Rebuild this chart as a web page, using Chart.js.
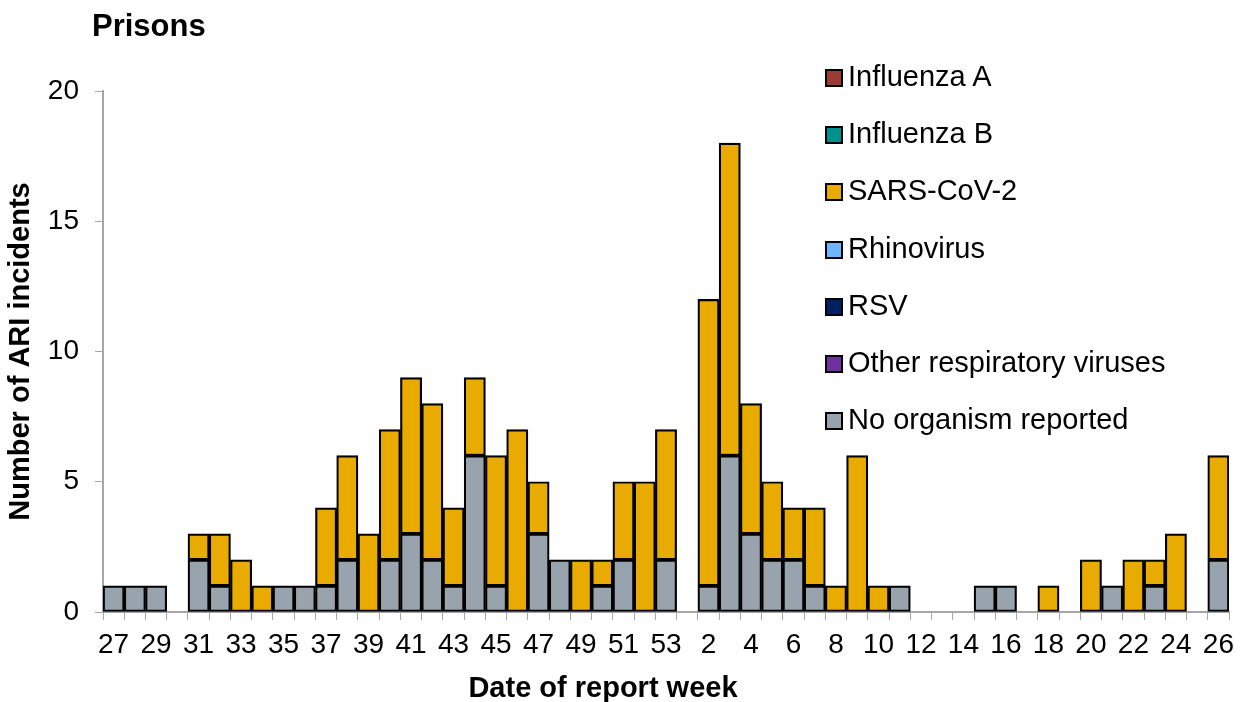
<!DOCTYPE html>
<html>
<head>
<meta charset="utf-8">
<script src="https://cdn.jsdelivr.net/npm/chart.js@4.4.1/dist/chart.umd.min.js"></script>
<style>
    html, body { margin: 0; padding: 0; background: #fff; }
    #wrap { position: relative; width: 1242px; height: 702px; font-family: Arial, "Liberation Sans", sans-serif; }
    #chart { position: absolute; left: 0; top: 0; }
    #title { position: absolute; left: 92px; top: 8px; font-size: 31px; font-weight: bold; color: #000; }
    #xtitle { position: absolute; left: 603px; top: 671px; transform: translateX(-50%); font-size: 29px; font-weight: bold; color: #000; white-space: nowrap; }
    #legend { position: absolute; left: 825px; top: 60px; }
    .item { height: 57.2px; display: flex; align-items: flex-start; font-size: 29px; color: #000; white-space: nowrap; }
    .box { width: 14px; height: 14px; border: 2px solid #000; margin: 9px 5px 0 0; }
</style>
</head>
<body>
<div id="wrap">
    <canvas id="chart" width="1242" height="702"></canvas>
    <div id="title">Prisons</div>
    <div id="xtitle">Date of report week</div>
    <div id="legend"></div>
</div>
<script>
// report weeks 27..53 then 1..26
const weeks = ['27', '28', '29', '30', '31', '32', '33', '34', '35', '36', '37', '38', '39', '40',
    '41', '42', '43', '44', '45', '46', '47', '48', '49', '50', '51', '52', '53',
    '1', '2', '3', '4', '5', '6', '7', '8', '9', '10', '11', '12', '13', '14', '15', '16',
    '17', '18', '19', '20', '21', '22', '23', '24', '25', '26'];

const influenzaA = [0, 0, 0, 0, 0, 0, 0, 0, 0, 0, 0, 0, 0, 0, 0, 0, 0, 0, 0, 0, 0, 0, 0, 0, 0, 0, 0,
    0, 0, 0, 0, 0, 0, 0, 0, 0, 0, 0, 0, 0, 0, 0, 0, 0, 0, 0, 0, 0, 0, 0, 0, 0, 0];
const influenzaB = [0, 0, 0, 0, 0, 0, 0, 0, 0, 0, 0, 0, 0, 0, 0, 0, 0, 0, 0, 0, 0, 0, 0, 0, 0, 0, 0,
    0, 0, 0, 0, 0, 0, 0, 0, 0, 0, 0, 0, 0, 0, 0, 0, 0, 0, 0, 0, 0, 0, 0, 0, 0, 0];
const sarsCov2 = [0, 0, 0, 0, 1, 2, 2, 1, 0, 0, 3, 4, 3, 5, 6, 6, 3, 3, 5, 7, 2, 0, 2, 1, 3, 5, 5,
    0, 11, 12, 5, 3, 2, 3, 1, 6, 1, 0, 0, 0, 0, 0, 0, 0, 1, 0, 2, 0, 2, 1, 3, 0, 4];
const rhinovirus = [0, 0, 0, 0, 0, 0, 0, 0, 0, 0, 0, 0, 0, 0, 0, 0, 0, 0, 0, 0, 0, 0, 0, 0, 0, 0, 0,
    0, 0, 0, 0, 0, 0, 0, 0, 0, 0, 0, 0, 0, 0, 0, 0, 0, 0, 0, 0, 0, 0, 0, 0, 0, 0];
const rsv = [0, 0, 0, 0, 0, 0, 0, 0, 0, 0, 0, 0, 0, 0, 0, 0, 0, 0, 0, 0, 0, 0, 0, 0, 0, 0, 0,
    0, 0, 0, 0, 0, 0, 0, 0, 0, 0, 0, 0, 0, 0, 0, 0, 0, 0, 0, 0, 0, 0, 0, 0, 0, 0];
const otherViruses = [0, 0, 0, 0, 0, 0, 0, 0, 0, 0, 0, 0, 0, 0, 0, 0, 0, 0, 0, 0, 0, 0, 0, 0, 0, 0, 0,
    0, 0, 0, 0, 0, 0, 0, 0, 0, 0, 0, 0, 0, 0, 0, 0, 0, 0, 0, 0, 0, 0, 0, 0, 0, 0];
const noOrganism = [1, 1, 1, 0, 2, 1, 0, 0, 1, 1, 1, 2, 0, 2, 3, 2, 1, 6, 1, 0, 3, 2, 0, 1, 2, 0, 2,
    0, 1, 6, 3, 2, 2, 1, 0, 0, 0, 1, 0, 0, 0, 1, 1, 0, 0, 0, 0, 1, 0, 1, 0, 0, 2];

const yTicks = [0, 5, 10, 15, 20];

// zero segments would leave a black line, so drop them
const nz = a => a.map(v => v === 0 ? null : v);

function bar(label, values, color) {
    return {
        label: label,
        data: nz(values),
        backgroundColor: color,
        borderColor: '#000',
        borderWidth: 2.2,
        borderSkipped: false,
        barPercentage: 1,
        categoryPercentage: 1
    };
}

// bottom of the stack first
const datasets = [
    bar('No organism reported', noOrganism, '#98a3ad'),
    bar('Other respiratory viruses', otherViruses, '#7030a0'),
    bar('RSV', rsv, '#002060'),
    bar('Rhinovirus', rhinovirus, '#6cb6ff'),
    bar('SARS-CoV-2', sarsCov2, '#e9ab00'),
    bar('Influenza B', influenzaB, '#009090'),
    bar('Influenza A', influenzaA, '#9b3b36')
];

const axisColor = '#a6a6a6';
const config = {
    type: 'bar',
    data: { labels: weeks, datasets: datasets },
    options: {
        responsive: false,
        animation: false,
        layout: { padding: { left: 0, top: 91, right: 4, bottom: 0 } },
        plugins: { legend: { display: false }, tooltip: { enabled: false } },
        scales: {
            x: {
                stacked: true,
                grid: { drawOnChartArea: false, color: axisColor, tickLength: 8, offset: true },
                border: { color: axisColor, width: 2 },
                ticks: {
                    autoSkip: false, maxRotation: 0, padding: 8, color: '#000',
                    font: { family: 'Arial, "Liberation Sans"', size: 28 },
                    callback: (v, i) => i % 2 === 0 ? weeks[i] : ''
                },
                afterFit: s => { s.height = 90; }
            },
            y: {
                stacked: true, min: 0, max: 20,
                afterBuildTicks: s => { s.ticks = yTicks.map(v => ({ value: v })); },
                grid: { drawOnChartArea: false, color: axisColor, tickLength: 8 },
                border: { color: axisColor, width: 2 },
                ticks: { padding: 16, color: '#000', font: { family: 'Arial, "Liberation Sans"', size: 28 } },
                title: {
                    display: true, text: 'Number of ARI incidents', color: '#000',
                    padding: { top: 4, bottom: 0 },
                    font: { family: 'Arial, "Liberation Sans"', size: 29, weight: 'bold' }
                },
                afterFit: s => { s.width = 103; }
            }
        }
    }
};

const ctx = document.getElementById('chart').getContext('2d');
new Chart(ctx, config);

// legend listed top series first, like the original
const legend = document.getElementById('legend');
datasets.slice().reverse().forEach(d => {
    const item = document.createElement('div');
    item.className = 'item';
    item.innerHTML = '<span class="box" style="background:' + d.backgroundColor + '"></span>' + d.label;
    legend.appendChild(item);
});
</script>
</body>
</html>
